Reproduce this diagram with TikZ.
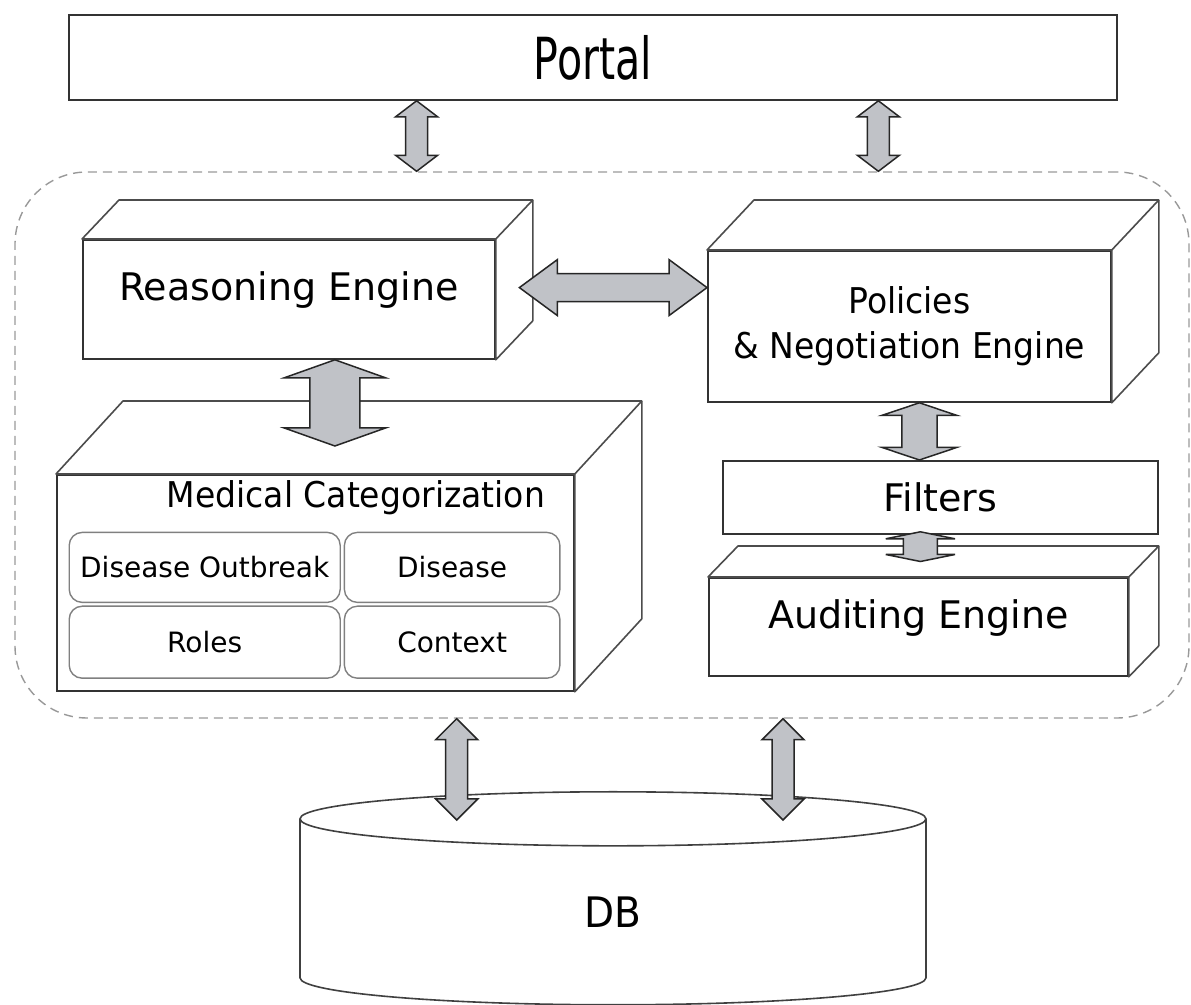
\documentclass[tikz,border=0pt]{standalone}
\usepackage{fontspec}
\setmainfont{DejaVu Sans}
\newfontfamily\condfont[FakeStretch=0.93]{DejaVu Sans}
\newfontfamily\portalfont[FakeStretch=0.71]{DejaVu Sans}
\usetikzlibrary{shapes, positioning, calc}
\definecolor{arrowgray}{RGB}{192,194,199}
\tikzstyle{plain}=[rectangle, draw=black!80, line width=0.9pt, fill=white, inner sep=0pt]
\tikzstyle{face}=[draw=black!70, line width=0.8pt, fill=white, line join=round]
\tikzstyle{cell}=[rectangle, rounded corners=6.5pt, draw=black!50, line width=0.7pt, fill=white, inner sep=0pt]
\tikzstyle{core}=[rectangle, rounded corners=36pt, draw=black!40, dash pattern=on 4.5pt off 3pt, line width=0.7pt]
\tikzstyle{dbcyl}=[cylinder, shape border rotate=90, aspect=0.95, draw=black!75, line width=0.8pt, fill=white, inner sep=0pt]
\tikzstyle{fat}=[draw=black!85, line width=0.75pt, fill=arrowgray, line join=miter]
\newcommand{\bigtxt}{\fontsize{19}{23}\selectfont}
\newcommand{\midtxt}{\condfont\fontsize{17.75}{22.35}\selectfont}
\newcommand{\celltxt}{\fontsize{14}{17}\selectfont}
\newcommand{\dbtxt}{\condfont\fontsize{21}{25}\selectfont}
\newcommand{\portaltxt}{\portalfont\fontsize{29}{34}\selectfont}

% top and side faces of a box: node, dx, dy
\newcommand{\boxdepth}[3]{%
  \draw [face] (#1.north west) -- ++(#2,-#3) -| ($(#1.south east)+(#2,-#3)$) -- (#1.south east) -- (#1.north east) -- cycle;
  \draw [face] (#1.north east) -- ++(#2,-#3);
}
% vertical block arrow: top end, bottom end, half shaft, half head, head length
\newcommand{\varrow}[5]{%
  \draw [fat] let \p1=(#1), \p2=(#2) in
    (\x1,\y1) -- (\x1+#4,\y1-#5) -- (\x1+#3,\y1-#5) -- (\x1+#3,\y2+#5) -- (\x1+#4,\y2+#5) -- (\x1,\y2)
    -- (\x1-#4,\y2+#5) -- (\x1-#3,\y2+#5) -- (\x1-#3,\y1-#5) -- (\x1-#4,\y1-#5) -- cycle;
}
% horizontal block arrow: left end, right end, half shaft, half head, head length
\newcommand{\harrow}[5]{%
  \draw [fat] let \p1=(#1), \p2=(#2) in
    (\x1,\y1) -- (\x1+#5,\y1+#4) -- (\x1+#5,\y1+#3) -- (\x2-#5,\y1+#3) -- (\x2-#5,\y1+#4) -- (\x2,\y1)
    -- (\x2-#5,\y1-#4) -- (\x2-#5,\y1-#3) -- (\x1+#5,\y1-#3) -- (\x1+#5,\y1-#4) -- cycle;
}

\begin{document}
\begin{tikzpicture}[x=0.5pt, y=-0.5pt]
    \useasboundingbox (0,0) rectangle (1191,1005);

    \node [core, minimum width=587pt, minimum height=273pt] (core) at (602,445) {};
    \node [plain, anchor=north west, minimum width=524pt, minimum height=42.5pt, font=\portaltxt] (portal) at (68,14) {Portal};

    \node [plain, anchor=north west, minimum width=206pt, minimum height=59.5pt, font=\bigtxt, text depth=13.5pt] (reason) at (82,239) {Reasoning Engine};
    \boxdepth{reason}{37}{39}

    \node [plain, anchor=north west, minimum width=201.5pt, minimum height=75.5pt, font=\midtxt, align=center] (policy) at (707,250) {Policies\\\& Negotiation Engine};
    \boxdepth{policy}{47}{50}

    \node [plain, anchor=north west, minimum width=258.5pt, minimum height=108pt] (med) at (56,474) {};
    \node [anchor=base, inner sep=0pt, font=\midtxt] (medlabel) at ($(med.north)+(40.5,33.7)$) {Medical Categorization};
    \node [cell, anchor=north west, minimum width=135.5pt, minimum height=35pt, font=\celltxt] (outbreak) at ($(med.north west)+(12.5,57.7)$) {Disease Outbreak};
    \node [cell, right=1.4pt of outbreak, minimum width=107.75pt, minimum height=35pt, font=\celltxt] (disease) {Disease};
    \node [cell, below=1.2pt of outbreak, minimum width=135.5pt, minimum height=36pt, font=\celltxt] (roles) {Roles};
    \node [cell, right=1.4pt of roles, minimum width=107.75pt, minimum height=36pt, font=\celltxt] (context) {Context};
    \boxdepth{med}{67}{73}

    \node [plain, anchor=north west, minimum width=217.5pt, minimum height=36.5pt, font=\bigtxt] (filters) at (722,460) {Filters};
    \node [plain, anchor=north west, minimum width=209.5pt, minimum height=49pt, font=\bigtxt, text depth=12.5pt] (audit) at (708,577) {Auditing Engine};
    \boxdepth{audit}{30}{31}

    \node [dbcyl, anchor=north, minimum width=313pt, minimum height=106.5pt, font=\dbtxt] (db) at (613,791) {DB};

    % arrows
    \varrow{$(portal.south)+(-176.3,0)$}{core.north}{5.5pt}{10.5pt}{8pt}
    \varrow{$(portal.south)+(285.5,0)$}{core.north}{5.5pt}{10.5pt}{8pt}
    \varrow{$(reason.south)+(46,0)$}{$(med.north)+(0,-28)$}{12.5pt}{25.3pt}{9pt}
    \harrow{$(reason.east)+(23.6,-11.8)$}{policy.west}{7pt}{14pt}{19pt}
    \varrow{$(policy.south)+(10,0)$}{filters.north}{8.8pt}{18.75pt}{6.3pt}
    \varrow{$(filters.south)+(-20,-3)$}{$(audit.north)+(0,-15.5)$}{8.5pt}{17.3pt}{3.5pt}
    \varrow{$(core.south)+(-145.3,0)$}{$(db.north)+(0,29)$}{5.5pt}{10.5pt}{10.5pt}
    \varrow{$(core.south)+(181,0)$}{$(db.north)+(0,29)$}{5.5pt}{10.5pt}{10.5pt}
\end{tikzpicture}
\end{document}
